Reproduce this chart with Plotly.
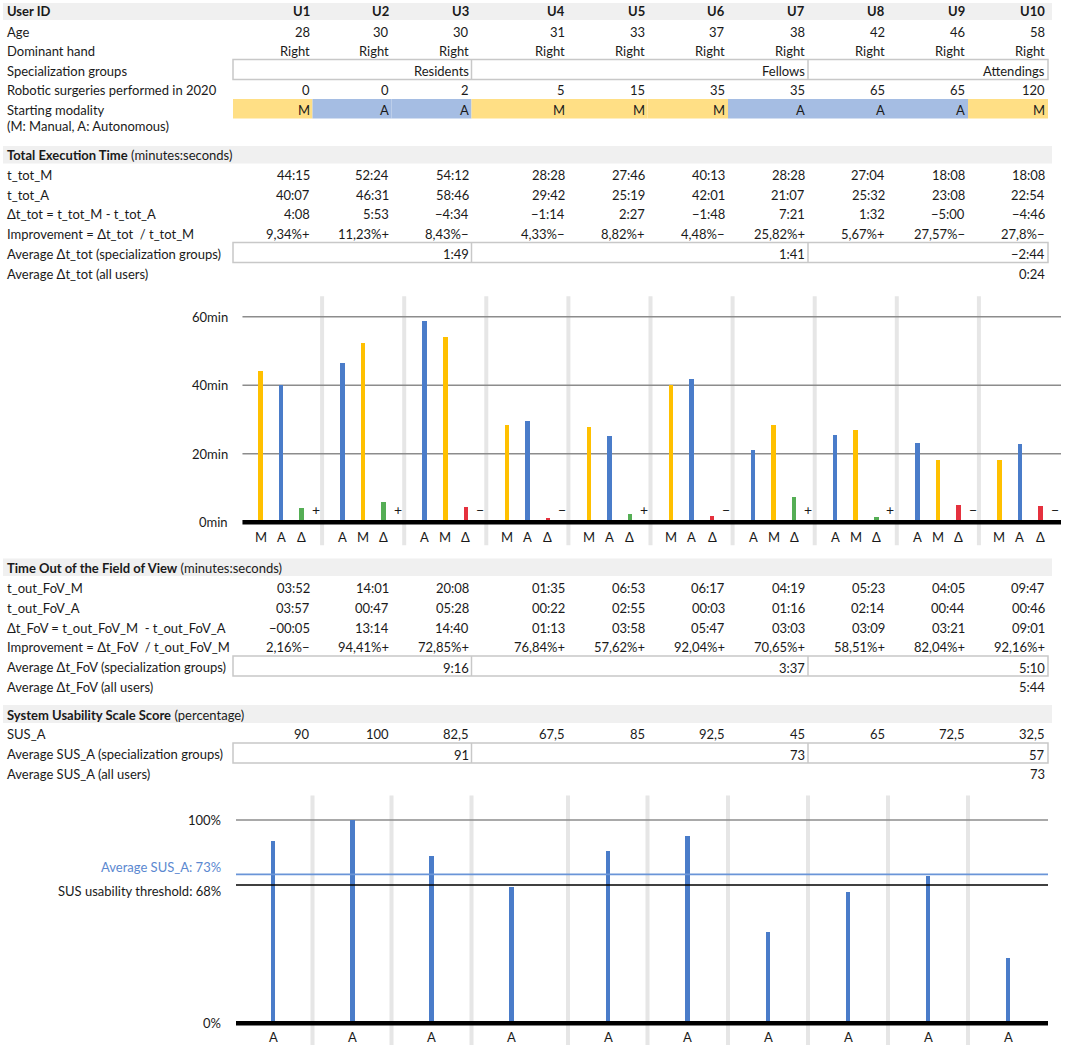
import plotly.graph_objects as go

# ---------------- DATA ----------------
user_ids = ["U1", "U2", "U3", "U4", "U5", "U6", "U7", "U8", "U9", "U10"]
ages = [28, 30, 30, 31, 33, 37, 38, 42, 46, 58]
dominant_hand = ["Right", "Right", "Right", "Right", "Right", "Right", "Right", "Right", "Right", "Right"]
group_names = ["Residents", "Fellows", "Attendings"]
group_sizes = [3, 4, 3]
surgeries_2020 = [0, 0, 2, 5, 15, 35, 35, 65, 65, 120]
starting_modality = ["M", "A", "A", "M", "M", "M", "A", "A", "A", "M"]

t_tot_M = ["44:15", "52:24", "54:12", "28:28", "27:46", "40:13", "28:28", "27:04", "18:08", "18:08"]
t_tot_A = ["40:07", "46:31", "58:46", "29:42", "25:19", "42:01", "21:07", "25:32", "23:08", "22:54"]
delta_tot = ["4:08", "5:53", "−4:34", "−1:14", "2:27", "−1:48", "7:21", "1:32", "−5:00", "−4:46"]
improvement_tot = ["9,34%+", "11,23%+", "8,43%−", "4,33%−", "8,82%+", "4,48%−", "25,82%+", "5,67%+", "27,57%−", "27,8%−"]
avg_delta_tot_groups = ["1:49", "1:41", "−2:44"]
avg_delta_tot_all = "0:24"

t_fov_M = ["03:52", "14:01", "20:08", "01:35", "06:53", "06:17", "04:19", "05:23", "04:05", "09:47"]
t_fov_A = ["03:57", "00:47", "05:28", "00:22", "02:55", "00:03", "01:16", "02:14", "00:44", "00:46"]
delta_fov = ["−00:05", "13:14", "14:40", "01:13", "03:58", "05:47", "03:03", "03:09", "03:21", "09:01"]
improvement_fov = ["2,16%−", "94,41%+", "72,85%+", "76,84%+", "57,62%+", "92,04%+", "70,65%+", "58,51%+", "82,04%+", "92,16%+"]
avg_delta_fov_groups = ["9:16", "3:37", "5:10"]
avg_delta_fov_all = "5:44"

sus_A = [90, 100, 82.5, 67.5, 85, 92.5, 45, 65, 72.5, 32.5]
avg_sus_groups = [91, 73, 57]
sus_threshold = 68

time_ticks = [0, 20, 40, 60]
sus_ticks = [0, 100]

# ---------------- LAYOUT CONSTANTS ----------------
W, H = 1065, 1050
FONT = "Lato"
FS = 13
TXT = "#1a1a1a"
YEL_CELL, BLUE_CELL = "#FFDF85", "#A5BDE3"
YEL, BLUE, GREEN, RED = "#FFC000", "#4A7CC9", "#55AE55", "#E5313E"
SEP = "#E6E6E6"


def px(x):
    return x / W


def py(y):
    return 1 - y / H


def to_min(s):
    neg = s.startswith("−") or s.startswith("-")
    s = s.lstrip("−-")
    m, sec = s.split(":")
    v = int(m) + int(sec) / 60
    return -v if neg else v


def fmt_num(v):
    return (f"{v:g}").replace(".", ",")


col_left = [233, 312.5, 391.5, 471.5, 568, 647.5, 728, 808, 888, 968]
col_right = col_left[1:] + [1048]
LABEL_X = 5

annotations = []
shapes = []


def text(x, y, s, anchor="left", size=FS, color=TXT, xref="paper", yref="paper", **kw):
    annotations.append(dict(x=x, y=y, xref=xref, yref=yref, text=s, showarrow=False,
                            xanchor=anchor, yanchor="middle",
                            font=dict(family=FONT, size=size, color=color), **kw))


def row_label(y, s):
    text(px(LABEL_X), py(y), s)


def row_values(y, vals):
    for i, v in enumerate(vals):
        text(px(col_right[i] - 1), py(y), str(v), anchor="right")


def band(y0, y1):
    shapes.append(dict(type="rect", xref="paper", yref="paper", x0=px(3), x1=px(1052),
                       y0=py(y1), y1=py(y0), fillcolor="#F0F0F0", line=dict(width=0), layer="below"))


def group_box(y0, y1, vals):
    shapes.append(dict(type="rect", xref="paper", yref="paper", x0=px(col_left[0]), x1=px(col_right[-1]),
                       y0=py(y1), y1=py(y0), line=dict(color="#C8C8C8", width=1.5)))
    idx = 0
    yc = (y0 + y1) / 2 + 1.5
    for g, n in enumerate(group_sizes):
        idx += n
        xr = col_right[idx - 1]
        if idx < len(col_right):
            shapes.append(dict(type="line", xref="paper", yref="paper", x0=px(xr), x1=px(xr),
                               y0=py(y1), y1=py(y0), line=dict(color="#C8C8C8", width=1.5)))
        text(px(xr - 1), py(yc), str(vals[g]), anchor="right")


# ---------------- TABLE: participants ----------------
band(3, 20)
row_label(11.5, "<b>User ID</b>")
row_values(11.5, [f"<b>{u}</b>" for u in user_ids])
row_label(31.5, "Age")
row_values(31.5, ages)
row_label(51, "Dominant hand")
row_values(51, dominant_hand)
row_label(71, "Specialization groups")
group_box(59.5, 79.5, group_names)
row_label(90.5, "Robotic surgeries performed in 2020")
row_values(90.5, surgeries_2020)
row_label(110, "Starting modality")
row_label(126, "(M: Manual, A: Autonomous)")
for i, m in enumerate(starting_modality):
    shapes.append(dict(type="rect", xref="paper", yref="paper", x0=px(col_left[i]), x1=px(col_right[i]),
                       y0=py(118.5), y1=py(99), fillcolor=YEL_CELL if m == "M" else BLUE_CELL,
                       line=dict(width=0), layer="below"))
row_values(110, starting_modality)

# ---------------- TABLE: total execution time ----------------
band(146, 163.5)
row_label(155, "<b>Total Execution Time</b> (minutes:seconds)")
row_label(175, "t_tot_M")
row_values(175, t_tot_M)
row_label(194.7, "t_tot_A")
row_values(194.7, t_tot_A)
row_label(214.3, "Δt_tot = t_tot_M - t_tot_A")
row_values(214.3, delta_tot)
row_label(234.3, "Improvement = Δt_tot \u00a0/ t_tot_M")
row_values(234.3, improvement_tot)
row_label(254.3, "Average Δt_tot (specialization groups)")
group_box(242.5, 262.5, avg_delta_tot_groups)
row_label(273.7, "Average Δt_tot (all users)")
text(px(col_right[-1] - 1), py(273.7), avg_delta_tot_all, anchor="right")

# ---------------- TABLE: FoV ----------------
band(558.5, 576)
row_label(568, "<b>Time Out of the Field of View</b> (minutes:seconds)")
row_label(588.3, "t_out_FoV_M")
row_values(588.3, t_fov_M)
row_label(607.7, "t_out_FoV_A")
row_values(607.7, t_fov_A)
row_label(627.7, "Δt_FoV = t_out_FoV_M \u00a0- t_out_FoV_A")
row_values(627.7, delta_fov)
row_label(647.3, "Improvement = Δt_FoV \u00a0/ t_out_FoV_M")
row_values(647.3, improvement_fov)
row_label(667.3, "Average Δt_FoV (specialization groups)")
group_box(656, 676, avg_delta_fov_groups)
row_label(687, "Average Δt_FoV (all users)")
text(px(col_right[-1] - 1), py(687), avg_delta_fov_all, anchor="right")

# ---------------- TABLE: SUS ----------------
band(705, 723)
row_label(715, "<b>System Usability Scale Score</b> (percentage)")
row_label(734.3, "SUS_A")
row_values(734.3, [fmt_num(v) for v in sus_A])
row_label(754.3, "Average SUS_A (specialization groups)")
group_box(743, 763, avg_sus_groups)
row_label(774.3, "Average SUS_A (all users)")
sus_mean = sum(sus_A) / len(sus_A)
text(px(col_right[-1] - 1), py(774.3), f"{round(sus_mean)}", anchor="right")

# ---------------- CHART 1: execution time ----------------
fig = go.Figure()
mx, ax, dx = [], [], []
m_vals = [to_min(s) for s in t_tot_M]
a_vals = [to_min(s) for s in t_tot_A]
for i, first in enumerate(starting_modality):
    if first == "M":
        mx.append(i + 0.25); ax.append(i + 0.5)
    else:
        ax.append(i + 0.25); mx.append(i + 0.5)
    dx.append(i + 0.75)
d_vals = [m - a for m, a in zip(m_vals, a_vals)]
d_abs = [abs(d) for d in d_vals]
d_cols = [GREEN if d > 0 else RED for d in d_vals]

bw = 0.055
fig.add_trace(go.Bar(x=mx, y=m_vals, width=bw, marker=dict(color=YEL, cornerradius=2, line=dict(width=0)),
                     xaxis="x", yaxis="y", name="M", showlegend=False))
fig.add_trace(go.Bar(x=ax, y=a_vals, width=bw, marker=dict(color=BLUE, cornerradius=2, line=dict(width=0)),
                     xaxis="x", yaxis="y", name="A", showlegend=False))
fig.add_trace(go.Bar(x=dx, y=d_abs, width=bw, marker=dict(color=d_cols, cornerradius=2, line=dict(width=0)),
                     xaxis="x", yaxis="y", name="Δ", showlegend=False))

for i in range(1, 10):
    shapes.append(dict(type="line", xref="x", yref="y", x0=i, x1=i, y0=-6.7, y1=66,
                       line=dict(color=SEP, width=4), layer="below"))
for t in time_ticks[1:]:
    shapes.append(dict(type="line", xref="x", yref="y", x0=0.03, x1=10, y0=t, y1=t,
                       line=dict(color="#8C8C8C", width=1.5), layer="below"))
shapes.append(dict(type="line", xref="x", yref="y", x0=0.03, x1=10, y0=0, y1=0,
                   line=dict(color="black", width=4.5)))
for t in time_ticks:
    text(px(230), t, f"{t}min", anchor="right", yref="y")
for i in range(10):
    text(mx[i], -4.3, "M", anchor="center", xref="x", yref="y")
    text(ax[i], -4.3, "A", anchor="center", xref="x", yref="y")
    text(dx[i], -4.3, "Δ", anchor="center", xref="x", yref="y")
    text(dx[i] + 0.1, 3.6, "+" if d_vals[i] > 0 else "−", anchor="left", size=14, xref="x", yref="y")

# ---------------- CHART 2: SUS ----------------
sus_x = [c + 40 for c in col_left]
fig.add_trace(go.Bar(x=sus_x, y=sus_A, width=4.5, marker=dict(color=BLUE, cornerradius=2, line=dict(width=0)),
                     xaxis="x2", yaxis="y2", name="SUS_A", showlegend=False))
for c in col_right[:-1]:
    shapes.append(dict(type="line", xref="x2", yref="y2", x0=c, x1=c, y0=-10.7, y1=112,
                       line=dict(color=SEP, width=4), layer="below"))
shapes.append(dict(type="line", xref="x2", yref="y2", x0=236, x1=1048, y0=100, y1=100,
                   line=dict(color="#8C8C8C", width=1.5), layer="below"))
shapes.append(dict(type="line", xref="x2", yref="y2", x0=236, x1=1048, y0=sus_mean, y1=sus_mean,
                   line=dict(color="#6A95D8", width=1.8)))
shapes.append(dict(type="line", xref="x2", yref="y2", x0=236, x1=1048, y0=sus_threshold, y1=sus_threshold,
                   line=dict(color="black", width=1.5)))
shapes.append(dict(type="line", xref="x2", yref="y2", x0=236, x1=1048, y0=0, y1=0,
                   line=dict(color="black", width=4.5)))
for t in sus_ticks:
    text(px(222.5), t, f"{t}%", anchor="right", yref="y2")
text(px(222.5), sus_mean, f"Average SUS_A: {round(sus_mean)}%", anchor="right", yref="y2",
     color="#5B88D0", yshift=7)
text(px(222.5), sus_threshold, f"SUS usability threshold: {sus_threshold}%", anchor="right", yref="y2",
     yshift=-6)
for x in sus_x:
    text(x, -6.5, "A", anchor="center", xref="x2", yref="y2")

fig.update_layout(
    width=W, height=H,
    margin=dict(l=0, r=0, t=0, b=0),
    paper_bgcolor="white", plot_bgcolor="rgba(0,0,0,0)",
    barmode="overlay", bargap=0,
    font=dict(family=FONT, size=FS, color=TXT),
    xaxis=dict(domain=[px(240), px(1061)], range=[0, 10], visible=False),
    yaxis=dict(domain=[py(549.7), py(292.7)], range=[-8, 67], visible=False),
    xaxis2=dict(domain=[0, 1], range=[0, W], visible=False, anchor="y2"),
    yaxis2=dict(domain=[py(1048.7), py(789.5)], range=[-12.5, 115], visible=False, anchor="x2"),
    shapes=shapes,
    annotations=annotations,
)

fig.write_html("out.html", config={"displayModeBar": False},
               post_script="document.body.style.margin='0px';document.body.style.overflow='hidden';")
